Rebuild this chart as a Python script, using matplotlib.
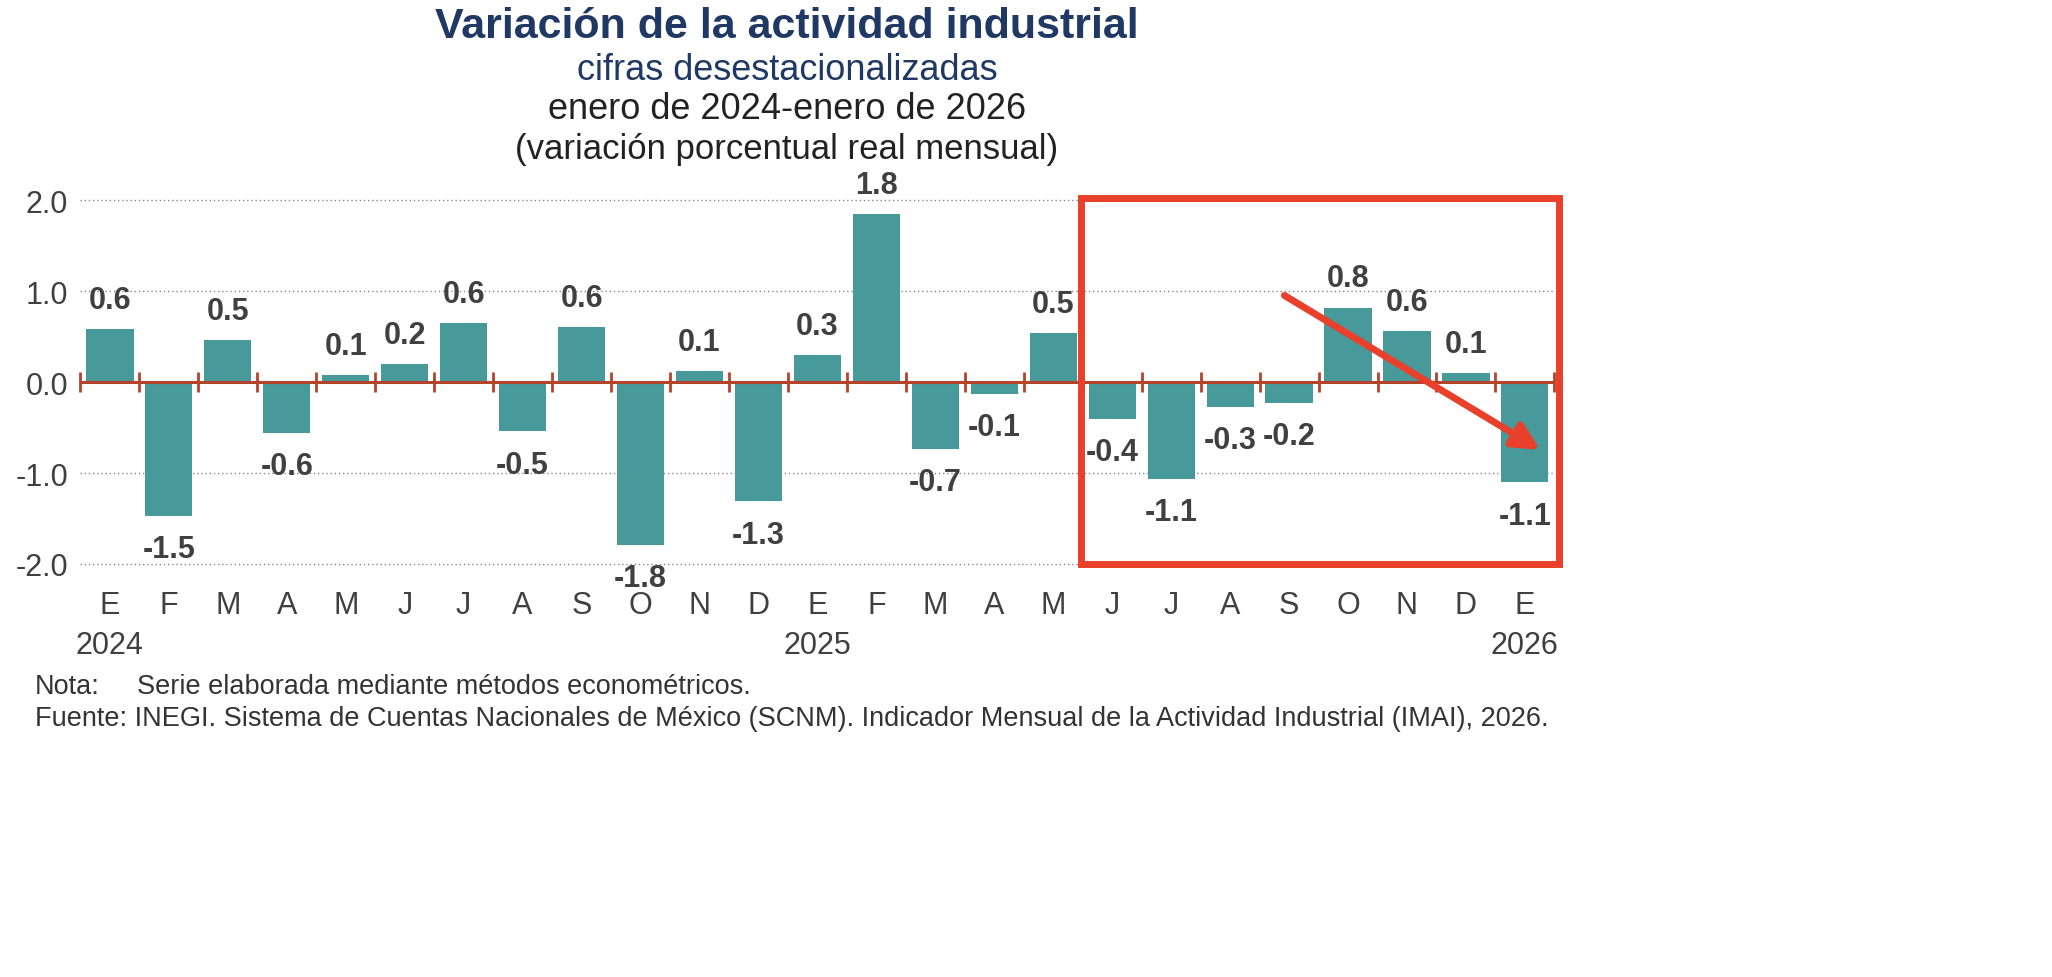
import matplotlib
matplotlib.use("Agg")
import matplotlib.pyplot as plt
from matplotlib.patches import Rectangle

months = ["E","F","M","A","M","J","J","A","S","O","N","D",
          "E","F","M","A","M","J","J","A","S","O","N","D","E"]
values = [0.58,-1.47,0.46,-0.56,0.08,0.20,0.65,-0.54,0.61,-1.79,0.12,-1.31,
          0.30,1.85,-0.73,-0.13,0.54,-0.40,-1.06,-0.27,-0.23,0.82,0.56,0.10,-1.10]
labels = ["0.6","-1.5","0.5","-0.6","0.1","0.2","0.6","-0.5","0.6","-1.8","0.1","-1.3",
          "0.3","1.8","-0.7","-0.1","0.5","-0.4","-1.1","-0.3","-0.2","0.8","0.6","0.1","-1.1"]
years = {0: "2024", 12: "2025", 24: "2026"}

plt.rcParams['font.family'] = ['Liberation Sans', 'DejaVu Sans']
fig = plt.figure(figsize=(20.52, 9.78), dpi=100)
ax = fig.add_axes([0.0392, 0.413, 0.7183, 0.409])
n = len(values)
x = list(range(n))
ax.bar(x, values, width=0.8, color="#47999A", zorder=2)
ax.set_xlim(-0.5, n - 0.5)
ax.set_ylim(-2.1, 2.3)
for s in ax.spines.values():
    s.set_visible(False)
ax.set_yticks([-2, -1, 0, 1, 2])
ax.set_yticklabels(["-2.0", "-1.0", "0.0", "1.0", "2.0"], fontsize=22, color="#404040")
ax.yaxis.grid(True, linestyle=(0, (1, 2)), color="#888888", linewidth=1)
ax.set_axisbelow(True)
ax.tick_params(axis='y', length=0, pad=9)
ax.set_xticks(x)
ax.set_xticklabels(months, fontsize=22, color="#404040")
ax.tick_params(axis='x', length=0, pad=12)
ax.axhline(0, color="#B5432A", linewidth=2.2, zorder=3)
bx = [i - 0.5 for i in range(n + 1)]
ax.plot(bx, [0]*len(bx), linestyle="none", marker="|", markersize=14,
        markeredgewidth=2, color="#B5432A", zorder=3, clip_on=False)
for i, (v, l) in enumerate(zip(values, labels)):
    off = 21 if v >= 0 else -24
    ax.annotate(l, (i, v), xytext=(0, off), textcoords="offset points",
                ha="center", va="center", fontsize=22, fontweight="bold", color="#404040")
for i, y in years.items():
    ax.annotate(y, (i, 0), xycoords=("data", "axes fraction"), xytext=(0, -52),
                textcoords="offset points", ha="center", va="center", fontsize=22, color="#404040")

ax.add_patch(Rectangle((16.47, -2.0), 24.58 - 16.47, 4.03, fill=False,
                       edgecolor="#E8402A", linewidth=5, clip_on=False, zorder=5))
ax.annotate("", xy=(24.3, -0.76), xytext=(19.88, 0.97),
            arrowprops=dict(arrowstyle="-|>,head_length=1.6,head_width=0.8",
                            color="#E8402A", lw=5), zorder=6)

fig.text(0.3835, 0.972, "Variación de la actividad industrial", ha="center", va="center",
         fontsize=31, fontweight="bold", color="#1F3864")
fig.text(0.3835, 0.928, "cifras desestacionalizadas", ha="center", va="center",
         fontsize=26, color="#1F3864")
fig.text(0.3835, 0.888, "enero de 2024-enero de 2026", ha="center", va="center",
         fontsize=26, color="#222222")
fig.text(0.3835, 0.847, "(variación porcentual real mensual)", ha="center", va="center",
         fontsize=25, color="#222222")
fig.text(0.017, 0.298, "Nota:", ha="left", va="center", fontsize=19.5, color="#333333")
fig.text(0.067, 0.298, "Serie elaborada mediante métodos econométricos.", ha="left",
         va="center", fontsize=19.5, color="#333333")
fig.text(0.017, 0.265, "Fuente: INEGI. Sistema de Cuentas Nacionales de México (SCNM). "
         "Indicador Mensual de la Actividad Industrial (IMAI), 2026.", ha="left",
         va="center", fontsize=19.5, color="#333333")
fig.savefig("out.png", dpi=100)
